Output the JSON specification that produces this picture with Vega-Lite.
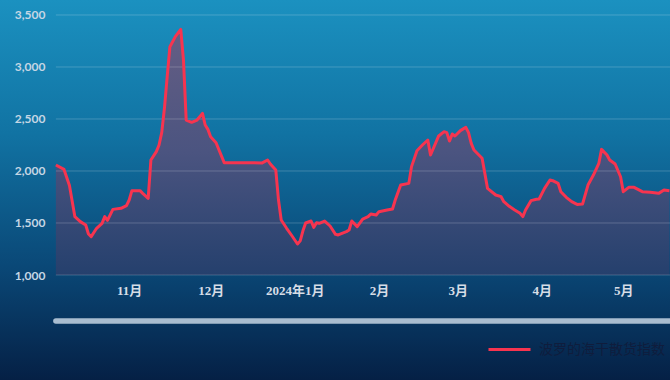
{
  "$schema": "https://vega.github.io/schema/vega-lite/v6.json",
  "width": 670,
  "height": 380,
  "autosize": {"type": "none"},
  "padding": 0,
  "background": "#0a3a66",
  "config": {
    "view": {
      "stroke": null,
      "fill": {"gradient": "linear", "x1": 0, "y1": 0, "x2": 0, "y2": 1,
        "stops": [
          {"offset": 0, "color": "#1b91c0"},
          {"offset": 0.35, "color": "#1173a3"},
          {"offset": 0.7, "color": "#0a4877"},
          {"offset": 1, "color": "#052045"}
        ]}
    }
  },
  "datasets": {
    "bdi": [
    {"date": "2023-10-05", "bdi": 2058},
    {"date": "2023-10-08", "bdi": 2015},
    {"date": "2023-10-10", "bdi": 1860},
    {"date": "2023-10-12", "bdi": 1561},
    {"date": "2023-10-14", "bdi": 1513},
    {"date": "2023-10-16", "bdi": 1481},
    {"date": "2023-10-17", "bdi": 1394},
    {"date": "2023-10-18", "bdi": 1369},
    {"date": "2023-10-20", "bdi": 1449},
    {"date": "2023-10-22", "bdi": 1497},
    {"date": "2023-10-23", "bdi": 1561},
    {"date": "2023-10-24", "bdi": 1525},
    {"date": "2023-10-26", "bdi": 1631},
    {"date": "2023-10-29", "bdi": 1641},
    {"date": "2023-10-31", "bdi": 1667},
    {"date": "2023-11-01", "bdi": 1721},
    {"date": "2023-11-02", "bdi": 1811},
    {"date": "2023-11-05", "bdi": 1811},
    {"date": "2023-11-06", "bdi": 1785},
    {"date": "2023-11-08", "bdi": 1737},
    {"date": "2023-11-09", "bdi": 2106},
    {"date": "2023-11-11", "bdi": 2186},
    {"date": "2023-11-12", "bdi": 2250},
    {"date": "2023-11-13", "bdi": 2371},
    {"date": "2023-11-14", "bdi": 2608},
    {"date": "2023-11-15", "bdi": 2907},
    {"date": "2023-11-16", "bdi": 3195},
    {"date": "2023-11-18", "bdi": 3292},
    {"date": "2023-11-20", "bdi": 3362},
    {"date": "2023-11-21", "bdi": 3067},
    {"date": "2023-11-22", "bdi": 2490},
    {"date": "2023-11-24", "bdi": 2468},
    {"date": "2023-11-26", "bdi": 2490},
    {"date": "2023-11-28", "bdi": 2554},
    {"date": "2023-11-29", "bdi": 2442},
    {"date": "2023-11-30", "bdi": 2400},
    {"date": "2023-12-01", "bdi": 2330},
    {"date": "2023-12-03", "bdi": 2272},
    {"date": "2023-12-06", "bdi": 2080},
    {"date": "2023-12-12", "bdi": 2080},
    {"date": "2023-12-20", "bdi": 2078},
    {"date": "2023-12-22", "bdi": 2106},
    {"date": "2023-12-23", "bdi": 2067},
    {"date": "2023-12-25", "bdi": 2010},
    {"date": "2023-12-26", "bdi": 1721},
    {"date": "2023-12-27", "bdi": 1529},
    {"date": "2023-12-29", "bdi": 1449},
    {"date": "2023-12-31", "bdi": 1375},
    {"date": "2024-01-02", "bdi": 1298},
    {"date": "2024-01-03", "bdi": 1328},
    {"date": "2024-01-04", "bdi": 1425},
    {"date": "2024-01-05", "bdi": 1500},
    {"date": "2024-01-07", "bdi": 1519},
    {"date": "2024-01-08", "bdi": 1458},
    {"date": "2024-01-09", "bdi": 1503},
    {"date": "2024-01-10", "bdi": 1497},
    {"date": "2024-01-12", "bdi": 1519},
    {"date": "2024-01-14", "bdi": 1471},
    {"date": "2024-01-16", "bdi": 1391},
    {"date": "2024-01-17", "bdi": 1385},
    {"date": "2024-01-20", "bdi": 1417},
    {"date": "2024-01-21", "bdi": 1433},
    {"date": "2024-01-22", "bdi": 1520},
    {"date": "2024-01-24", "bdi": 1465},
    {"date": "2024-01-26", "bdi": 1538},
    {"date": "2024-01-28", "bdi": 1561},
    {"date": "2024-01-29", "bdi": 1587},
    {"date": "2024-01-31", "bdi": 1577},
    {"date": "2024-02-01", "bdi": 1609},
    {"date": "2024-02-04", "bdi": 1625},
    {"date": "2024-02-06", "bdi": 1635},
    {"date": "2024-02-07", "bdi": 1721},
    {"date": "2024-02-09", "bdi": 1865},
    {"date": "2024-02-12", "bdi": 1881},
    {"date": "2024-02-13", "bdi": 2042},
    {"date": "2024-02-15", "bdi": 2195},
    {"date": "2024-02-17", "bdi": 2250},
    {"date": "2024-02-19", "bdi": 2298},
    {"date": "2024-02-20", "bdi": 2154},
    {"date": "2024-02-23", "bdi": 2337},
    {"date": "2024-02-25", "bdi": 2378},
    {"date": "2024-02-26", "bdi": 2369},
    {"date": "2024-02-27", "bdi": 2288},
    {"date": "2024-02-28", "bdi": 2356},
    {"date": "2024-02-29", "bdi": 2337},
    {"date": "2024-03-02", "bdi": 2388},
    {"date": "2024-03-04", "bdi": 2420},
    {"date": "2024-03-05", "bdi": 2369},
    {"date": "2024-03-06", "bdi": 2266},
    {"date": "2024-03-07", "bdi": 2202},
    {"date": "2024-03-10", "bdi": 2122},
    {"date": "2024-03-12", "bdi": 1833},
    {"date": "2024-03-15", "bdi": 1769},
    {"date": "2024-03-17", "bdi": 1753},
    {"date": "2024-03-18", "bdi": 1705},
    {"date": "2024-03-20", "bdi": 1660},
    {"date": "2024-03-22", "bdi": 1625},
    {"date": "2024-03-24", "bdi": 1593},
    {"date": "2024-03-25", "bdi": 1561},
    {"date": "2024-03-26", "bdi": 1625},
    {"date": "2024-03-28", "bdi": 1715},
    {"date": "2024-03-30", "bdi": 1728},
    {"date": "2024-03-31", "bdi": 1731},
    {"date": "2024-04-02", "bdi": 1833},
    {"date": "2024-04-04", "bdi": 1913},
    {"date": "2024-04-05", "bdi": 1907},
    {"date": "2024-04-07", "bdi": 1881},
    {"date": "2024-04-08", "bdi": 1801},
    {"date": "2024-04-10", "bdi": 1747},
    {"date": "2024-04-12", "bdi": 1705},
    {"date": "2024-04-14", "bdi": 1679},
    {"date": "2024-04-16", "bdi": 1683},
    {"date": "2024-04-18", "bdi": 1865},
    {"date": "2024-04-20", "bdi": 1961},
    {"date": "2024-04-22", "bdi": 2074},
    {"date": "2024-04-23", "bdi": 2208},
    {"date": "2024-04-25", "bdi": 2154},
    {"date": "2024-04-26", "bdi": 2106},
    {"date": "2024-04-28", "bdi": 2067},
    {"date": "2024-04-30", "bdi": 1945},
    {"date": "2024-05-01", "bdi": 1801},
    {"date": "2024-05-03", "bdi": 1843},
    {"date": "2024-05-05", "bdi": 1843},
    {"date": "2024-05-08", "bdi": 1801},
    {"date": "2024-05-11", "bdi": 1795},
    {"date": "2024-05-14", "bdi": 1785},
    {"date": "2024-05-16", "bdi": 1817},
    {"date": "2024-05-18", "bdi": 1811}
    ],
    "grid": [
      {"level": 1000, "from": "2023-10-05", "to": "2024-05-19"},
      {"level": 1500, "from": "2023-10-05", "to": "2024-05-19"},
      {"level": 2000, "from": "2023-10-05", "to": "2024-05-19"},
      {"level": 2500, "from": "2023-10-05", "to": "2024-05-19"},
      {"level": 3000, "from": "2023-10-05", "to": "2024-05-19"},
      {"level": 3500, "from": "2023-10-05", "to": "2024-05-19"}
    ]
  },
  "layer": [
    {
      "data": {"name": "bdi"},
      "mark": {"type": "area", "fill": {"gradient": "linear", "x1": 0, "y1": 0, "x2": 0, "y2": 1,
        "stops": [
          {"offset": 0, "color": "#655e84"},
          {"offset": 0.5, "color": "#4b5480"},
          {"offset": 1, "color": "#25406d"}
        ]}},
      "encoding": {
        "x": {
          "field": "date", "type": "temporal",
          "scale": {"domain": [{"year": 2023, "month": 9, "date": 14, "hours": 10}, {"year": 2024, "month": 5, "date": 18, "hours": 5}]},
          "axis": {
            "title": null, "orient": "bottom", "offset": -105,
            "domain": false, "ticks": false, "tickSize": 0, "grid": false,
            "values": [
              {"year": 2023, "month": 11, "date": 1},
              {"year": 2023, "month": 12, "date": 1},
              {"year": 2024, "month": 1, "date": 1},
              {"year": 2024, "month": 2, "date": 1},
              {"year": 2024, "month": 3, "date": 1},
              {"year": 2024, "month": 4, "date": 1},
              {"year": 2024, "month": 5, "date": 1}
            ],
            "labelExpr": "month(datum.value) == 0 ? year(datum.value) + '年1月' : (month(datum.value) + 1) + '月'",
            "labelFont": "Liberation Serif, Noto Sans CJK SC",
            "labelFontSize": 13, "labelFontWeight": "bold",
            "labelColor": "#d6dde6", "labelPadding": 9
          }
        },
        "y": {
          "field": "bdi", "type": "quantitative",
          "scale": {"domain": [-9.6, 3644.2], "nice": false, "zero": false},
          "axis": {
            "title": null, "offset": -50, "domain": false, "ticks": false, "tickSize": 0, "grid": false,
            "values": [1000, 1500, 2000, 2500, 3000, 3500],
            "labelExpr": "format(datum.value, ',')",
            "labelFont": "Lato", "labelFontSize": 12, "labelFontWeight": "bold",
            "labelColor": "#c5d6e4", "labelPadding": 5
          }
        },
        "y2": {"datum": 1000}
      }
    },
    {
      "data": {"name": "grid"},
      "mark": {"type": "rule", "stroke": "#ffffff", "strokeOpacity": 0.2, "strokeWidth": 1},
      "encoding": {
        "y": {"field": "level", "type": "quantitative"},
        "x": {"field": "from", "type": "temporal"},
        "x2": {"field": "to"}
      }
    },
    {
      "data": {"name": "bdi"},
      "mark": {"type": "line", "strokeWidth": 3, "strokeJoin": "round"},
      "encoding": {
        "x": {"field": "date", "type": "temporal"},
        "y": {"field": "bdi", "type": "quantitative"},
        "color": {"datum": "波罗的海干散货指数", "type": "nominal",
          "scale": {"range": ["#f7344f"]},
          "legend": {
            "title": null, "orient": "none", "legendX": 487, "legendY": 327,
            "symbolType": "stroke", "symbolSize": 1764, "symbolStrokeWidth": 3,
            "labelFont": "Noto Sans CJK SC", "labelFontSize": 14, "labelColor": "#0f1d3d",
            "labelOffset": 7, "padding": 0
          }
        }
      }
    },
    {
      "data": {"name": "bdi"},
      "transform": [{"aggregate": [{"op": "min", "field": "date", "as": "start"}, {"op": "max", "field": "date", "as": "end"}]}],
      "mark": {"type": "rule", "stroke": "#a9bdd0", "strokeWidth": 5.5, "strokeCap": "round"},
      "encoding": {
        "y": {"datum": 558, "type": "quantitative"},
        "x": {"field": "start", "type": "temporal"},
        "x2": {"field": "end"}
      }
    }
  ]
}
